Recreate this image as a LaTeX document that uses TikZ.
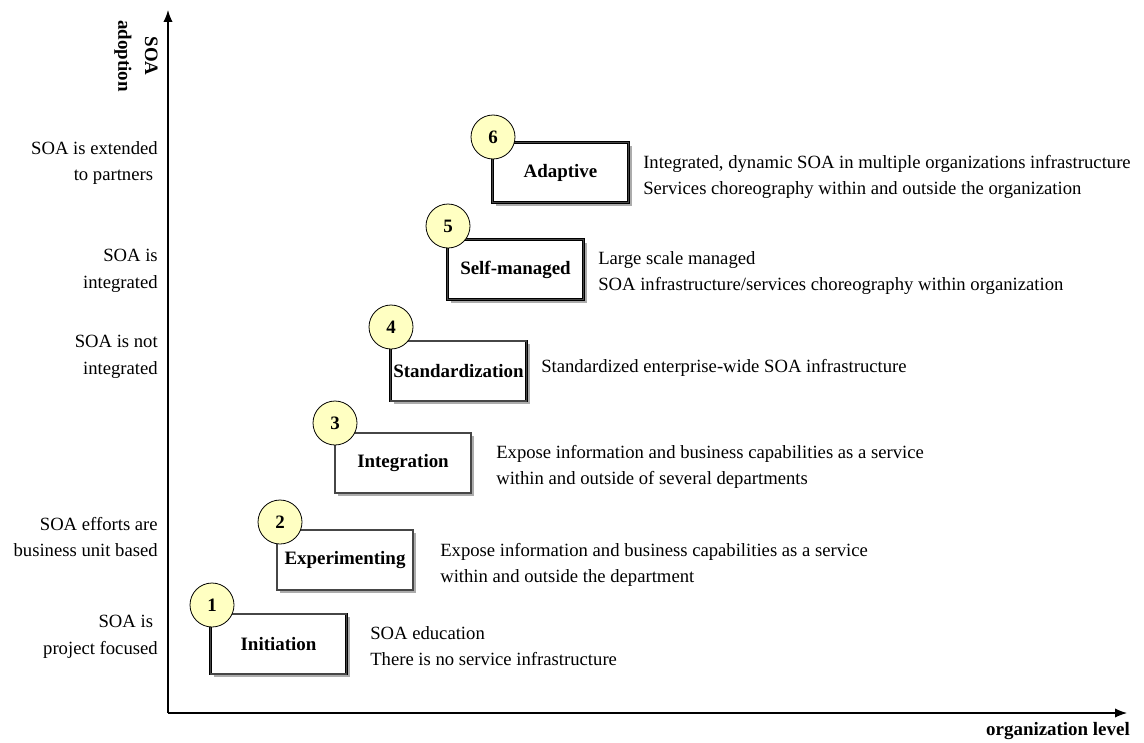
\documentclass[tikz,border=0pt]{standalone}
\usepackage{fontspec}
\setmainfont{Liberation Serif}
\usetikzlibrary{arrows.meta}
\definecolor{ballfill}{HTML}{FFFFC2}
\tikzset{
  every node/.style={font=\fontsize{14}{20}\selectfont},
  stagebox/.style={rectangle, draw=black, line width=0.7pt, double=gray!55!black,
    double distance=0.8pt, fill=white, minimum width=102pt, minimum height=45pt,
    inner sep=0pt, font=\fontsize{14.2}{20}\selectfont\bfseries},
  shadowbox/.style={fill=gray!65},
  ball/.style={circle, draw=black, line width=0.6pt, fill=ballfill, minimum size=33pt,
    inner sep=0pt, font=\fontsize{14.2}{20}\selectfont\bfseries},
  note/.style={anchor=west, align=left, inner sep=0pt},
  level/.style={anchor=east, align=right, inner sep=0pt},
  axis/.style={line width=0.9pt, -{Latex[length=9pt,width=7pt]}}
}
\begin{document}
\begin{tikzpicture}[x=0.75pt, y=-0.75pt]
\useasboundingbox (0,0) rectangle (1144,742);

% axes
\coordinate (origin) at (168,713);
\coordinate (ytop) at (168,10);
\coordinate (xend) at (1127,713);
\draw[axis] (origin) -- (ytop);
\draw[axis] (origin) -- (xend);
\node[rotate=-90, align=center, inner sep=0pt, font=\fontsize{14.2}{20}\selectfont\bfseries] (ylabel) at (136,56) {SOA\\adoption};
\node[anchor=east, inner sep=0pt, font=\fontsize{14.2}{20}\selectfont\bfseries] (xlabel) at (1130,731) {organization level};

% maturity levels on the vertical axis
\node[level] (l6) at (158,163) {SOA is extended\\to partners\phantom{.}};
\node[level] (l5) at (158,271) {SOA is\\integrated};
\node[level] (l4) at (158,357) {SOA is not\\integrated};
\node[level] (l2) at (158,537) {SOA efforts are\\business unit based};
\node[level] (l1) at (158,637) {SOA is\phantom{.}\\project focused};

% stage boxes with drop shadow
\foreach \n/\cx/\cy in {1/278.5/644, 2/345/560, 3/403/463, 4/458.5/371, 5/515.5/269.5, 6/560.5/172.5}{
  \fill[shadowbox] (\cx-65,\cy-27) rectangle (\cx+71,\cy+33);
}
\node[stagebox] (s1) at (278.5,644) {Initiation};
\node[stagebox] (s2) at (345,560) {Experimenting};
\node[stagebox] (s3) at (403,463) {Integration};
\node[stagebox] (s4) at (458.5,371) {Standardization};
\node[stagebox] (s5) at (515.5,269.5) {Self-managed};
\node[stagebox] (s6) at (560.5,172.5) {Adaptive};

% numbered balls
\node[ball] (b1) at (212,605) {1};
\node[ball] (b2) at (280,522) {2};
\node[ball] (b3) at (335,423) {3};
\node[ball] (b4) at (391,327) {4};
\node[ball] (b5) at (448,226) {5};
\node[ball] (b6) at (493,137) {6};

% descriptions
\node[note] (d1) at (370,646) {SOA education\\There is no service infrastructure};
\node[note] (d2) at (440,565) {Expose information and business capabilities as a service\\within and outside the department};
\node[note] (d3) at (496,467) {Expose information and business capabilities as a service\\within and outside of several departments};
\node[note] (d4) at (541,368) {Standardized enterprise-wide SOA infrastructure};
\node[note] (d5) at (598,273) {Large scale managed\\SOA infrastructure/services choreography within organization};
\node[note] (d6) at (643,177) {Integrated, dynamic SOA in multiple organizations infrastructure\\Services choreography within and outside the organization};
\end{tikzpicture}
\end{document}
